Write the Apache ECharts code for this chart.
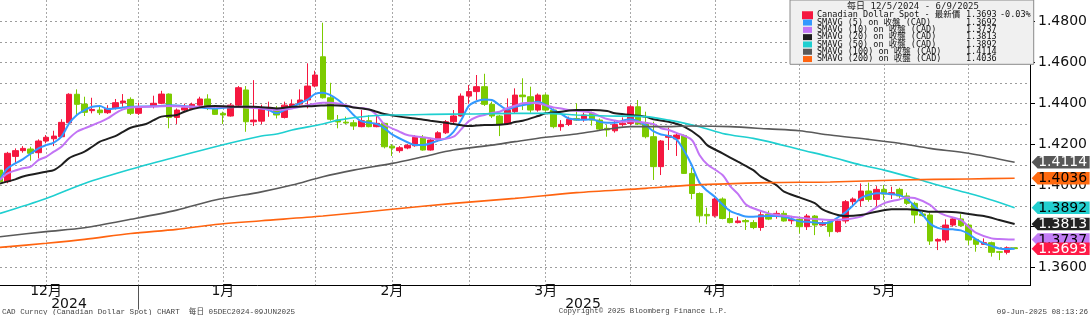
<!DOCTYPE html>
<html><head><meta charset="utf-8">
<script src="https://cdn.jsdelivr.net/npm/echarts@6/dist/echarts.min.js"></script>
<style>html,body{margin:0;padding:0;background:#fff}#c{width:1090px;height:315px}</style>
</head><body><div id="c"></div>
<script>
// ---------- DATA ----------
const firstDay = '2024-12-05';
const lastAxisDay = '2025-06-11';
const seriesNames = ['Canadian Dollar Spot - 最新價','SMAVG (5) on 收盤 (CAD)','SMAVG (10) on 收盤 (CAD)','SMAVG (20) on 收盤 (CAD)','SMAVG (50) on 收盤 (CAD)','SMAVG (100) on 收盤 (CAD)','SMAVG (200) on 收盤 (CAD)'];
const legendValues = [1.3693, 1.3692, 1.3737, 1.3813, 1.3892, 1.4114, 1.4036];
const lastChange = '-0.03%';
const yTicks = [1.36, 1.38, 1.40, 1.42, 1.44, 1.46, 1.48];
const yGrid = [1.36,1.37,1.38,1.39,1.40,1.41,1.42,1.43,1.44,1.45,1.46,1.47,1.48];
// [open, close, low, high] per weekday from 2024-12-05
const ohlc = [
[1.4076,1.4020,1.4010,1.4085],[1.4020,1.4158,1.4012,1.4165],[1.4143,1.4171,1.4109,1.4182],[1.4171,1.4182,1.4161,1.4193],
[1.4179,1.4158,1.4122,1.4190],[1.4161,1.4218,1.4133,1.4226],[1.4218,1.4236,1.4207,1.4247],[1.4229,1.4242,1.4193,1.4268],
[1.4239,1.4309,1.4236,1.4324],[1.4307,1.4446,1.4304,1.4451],[1.4446,1.4397,1.4345,1.4470],[1.4398,1.4358,1.4340,1.4434],
[1.4366,1.4372,1.4353,1.4429],[1.4369,1.4356,1.4345,1.4389],[1.4356,1.4377,1.4350,1.4393],[1.4377,1.4405,1.4372,1.4423],
[1.4405,1.4413,1.4385,1.4447],[1.4421,1.4353,1.4345,1.4431],[1.4353,1.4382,1.4345,1.4405],null,
[1.4389,1.4402,1.4377,1.4439],[1.4402,1.4447,1.4398,1.4463],[1.4447,1.4333,1.4280,1.4450],[1.4333,1.4369,1.4301,1.4377],
[1.4369,1.4380,1.4361,1.4400],[1.4377,1.4397,1.4369,1.4405],[1.4393,1.4423,1.4389,1.4434],[1.4423,1.4377,1.4369,1.4446],
[1.4377,1.4348,1.4345,1.4385],[1.4353,1.4345,1.4301,1.4361],[1.4340,1.4393,1.4337,1.4402],[1.4393,1.4478,1.4389,1.4486],
[1.4467,1.4312,1.4263,1.4486],[1.4312,1.4320,1.4291,1.4515],[1.4315,1.4378,1.4300,1.4395],[1.4372,1.4382,1.4336,1.4410],
[1.4377,1.4345,1.4328,1.4389],[1.4333,1.4393,1.4328,1.4410],[1.4382,1.4398,1.4377,1.4421],[1.4398,1.4418,1.4392,1.4470],
[1.4418,1.4486,1.4377,1.4597],[1.4486,1.4540,1.4480,1.4561],[1.4629,1.4429,1.4425,1.4795],[1.4429,1.4324,1.4317,1.4502],
[1.4320,1.4311,1.4280,1.4345],[1.4310,1.4306,1.4301,1.4337],[1.4307,1.4291,1.4272,1.4320],[1.4288,1.4317,1.4285,1.4369],
[1.4317,1.4288,1.4285,1.4345],[1.4288,1.4304,1.4285,1.4345],[1.4304,1.4190,1.4182,1.4307],[1.4193,1.4184,1.4145,1.4203],
[1.4171,1.4185,1.4161,1.4193],[1.4184,1.4197,1.4178,1.4203],[1.4195,1.4236,1.4190,1.4247],[1.4236,1.4174,1.4171,1.4247],
[1.4174,1.4223,1.4171,1.4231],[1.4223,1.4258,1.4215,1.4266],[1.4258,1.4312,1.4252,1.4320],[1.4312,1.4340,1.4304,1.4369],
[1.4340,1.4437,1.4337,1.4450],[1.4437,1.4459,1.4400,1.4491],[1.4459,1.4483,1.4418,1.4540],[1.4483,1.4397,1.4389,1.4546],
[1.4397,1.4340,1.4330,1.4410],[1.4340,1.4301,1.4242,1.4345],[1.4301,1.4369,1.4296,1.4426],[1.4361,1.4442,1.4353,1.4475],
[1.4442,1.4434,1.4369,1.4524],[1.4434,1.4369,1.4356,1.4483],[1.4369,1.4442,1.4361,1.4450],[1.4442,1.4369,1.4361,1.4450],
[1.4369,1.4288,1.4280,1.4377],[1.4288,1.4299,1.4268,1.4320],[1.4299,1.4324,1.4291,1.4337],[1.4328,1.4320,1.4317,1.4402],
[1.4324,1.4345,1.4312,1.4356],[1.4353,1.4320,1.4293,1.4361],[1.4320,1.4276,1.4268,1.4328],[1.4280,1.4272,1.4239,1.4296],
[1.4268,1.4299,1.4259,1.4320],[1.4298,1.4305,1.4288,1.4333],[1.4304,1.4385,1.4296,1.4393],[1.4385,1.4301,1.4296,1.4418],
[1.4301,1.4239,1.4231,1.4361],[1.4239,1.4093,1.4028,1.4312],[1.4093,1.4218,1.4052,1.4223],[1.4236,1.4244,1.4174,1.4283],
[1.4228,1.4247,1.4145,1.4260],[1.4245,1.4060,1.4057,1.4250],[1.4060,1.3962,1.3934,1.4088],[1.3962,1.3853,1.3820,1.3967],
[1.3860,1.3853,1.3812,1.3893],[1.3853,1.3935,1.3845,1.3943],[1.3935,1.3840,1.3836,1.3943],[1.3840,1.3820,1.3816,1.3885],
[1.3820,1.3828,1.3816,1.3849],[1.3830,1.3824,1.3784,1.3838],[1.3820,1.3796,1.3788,1.3832],[1.3796,1.3858,1.3780,1.3881],
[1.3861,1.3837,1.3832,1.3878],[1.3857,1.3865,1.3839,1.3878],[1.3865,1.3828,1.3825,1.3878],[1.3829,1.3836,1.3812,1.3853],
[1.3836,1.3800,1.3767,1.3849],[1.3800,1.3852,1.3784,1.3862],[1.3852,1.3808,1.3759,1.3857],[1.3808,1.3819,1.3804,1.3829],
[1.3824,1.3776,1.3751,1.3836],[1.3776,1.3828,1.3771,1.3833],[1.3828,1.3922,1.3816,1.3930],[1.3922,1.3935,1.3898,1.3943],
[1.3927,1.3974,1.3898,1.4011],[1.3974,1.3933,1.3922,1.4015],[1.3933,1.3982,1.3898,1.3998],[1.3982,1.3959,1.3930,1.4003],
[1.3959,1.3966,1.3935,1.3995],[1.3982,1.3950,1.3938,1.3990],[1.3950,1.3914,1.3906,1.3966],[1.3914,1.3857,1.3816,1.3922],
[1.3862,1.3854,1.3849,1.3873],[1.3857,1.3730,1.3711,1.3869],[1.3730,1.3738,1.3686,1.3743],[1.3735,1.3808,1.3722,1.3836],
[1.3808,1.3838,1.3800,1.3846],[1.3838,1.3805,1.3800,1.3861],[1.3808,1.3735,1.3711,1.3816],[1.3738,1.3714,1.3678,1.3743],
[1.3714,1.3722,1.3712,1.3743],[1.3722,1.3675,1.3654,1.3727],[1.3678,1.3675,1.3637,1.3681],[1.3675,1.3697,1.3665,1.3704],
[1.3697,1.3693,1.3691,1.3699]
];
// moving averages: [weekday index, value]
const sma5 = [[0,1.4028],[1,1.4085],[3,1.4130],[5,1.4182],[6,1.4198],[7,1.4210],[8,1.4239],[9,1.4304],[10,1.4345],[11,1.4369],[12,1.4385],[13,1.4389],[14,1.4374],[15,1.4377],[16,1.4382],[17,1.4385],[20,1.4387],[22,1.4392],[25,1.4385],[28,1.4377],[30,1.4383],[32,1.4385],[34,1.4378],[35,1.4369],[36,1.4353],[37,1.4369],[38,1.4385],[40,1.4420],[41,1.4448],[42,1.4454],[43,1.4442],[44,1.4418],[45,1.4385],[46,1.4345],[47,1.4315],[49,1.4301],[50,1.4280],[51,1.4250],[53,1.4212],[54,1.4198],[55,1.4198],[57,1.4220],[58,1.4231],[59,1.4263],[60,1.4320],[61,1.4390],[62,1.4412],[63,1.4421],[64,1.4418],[65,1.4393],[66,1.4372],[67,1.4385],[69,1.4400],[70,1.4410],[71,1.4393],[72,1.4369],[73,1.4350],[74,1.4328],[76,1.4322],[77,1.4324],[78,1.4312],[79,1.4307],[80,1.4307],[81,1.4317],[82,1.4324],[83,1.4315],[84,1.4295],[85,1.4266],[86,1.4250],[87,1.4243],[88,1.4225],[89,1.4170],[90,1.4100],[91,1.4015],[92,1.3975],[93,1.3946],[94,1.3908],[95,1.3876],[96,1.3862],[97,1.3850],[98,1.3849],[100,1.3852],[101,1.3852],[102,1.3849],[103,1.3838],[104,1.3826],[105,1.3824],[107,1.3817],[108,1.3822],[109,1.3845],[110,1.3870],[111,1.3905],[112,1.3940],[113,1.3955],[114,1.3963],[115,1.3963],[116,1.3958],[117,1.3954],[118,1.3935],[119,1.3900],[120,1.3860],[121,1.3815],[122,1.3794],[123,1.3788],[124,1.3787],[125,1.3782],[126,1.3765],[127,1.3738],[128,1.3719],[129,1.3706],[130,1.3694],[131,1.3691],[132,1.3692]];
const sma10 = [[0,1.4028],[1,1.4060],[3,1.4085],[4,1.4093],[5,1.4125],[6,1.4141],[7,1.4166],[8,1.4190],[9,1.4231],[10,1.4263],[11,1.4280],[13,1.4310],[14,1.4328],[15,1.4353],[16,1.4372],[17,1.4382],[19,1.4385],[22,1.4389],[24,1.4385],[27,1.4385],[30,1.4385],[32,1.4382],[34,1.4377],[36,1.4369],[38,1.4377],[40,1.4393],[42,1.4405],[43,1.4405],[45,1.4393],[46,1.4382],[48,1.4372],[49,1.4345],[50,1.4300],[52,1.4263],[53,1.4247],[55,1.4236],[56,1.4231],[57,1.4226],[59,1.4239],[60,1.4275],[61,1.4315],[62,1.4335],[63,1.4345],[64,1.4355],[65,1.4361],[66,1.4378],[67,1.4390],[68,1.4402],[69,1.4405],[70,1.4402],[71,1.4392],[72,1.4382],[73,1.4377],[74,1.4369],[75,1.4366],[77,1.4356],[78,1.4340],[79,1.4325],[80,1.4318],[81,1.4312],[82,1.4315],[83,1.4312],[85,1.4301],[86,1.4280],[87,1.4272],[88,1.4258],[90,1.4223],[91,1.4150],[92,1.4105],[94,1.4052],[95,1.3998],[96,1.3960],[97,1.3910],[98,1.3890],[100,1.3865],[101,1.3858],[103,1.3849],[105,1.3840],[106,1.3837],[108,1.3833],[110,1.3836],[112,1.3849],[113,1.3870],[115,1.3914],[117,1.3933],[118,1.3943],[119,1.3940],[121,1.3906],[122,1.3873],[123,1.3855],[125,1.3833],[126,1.3800],[127,1.3770],[129,1.3743],[130,1.3740],[132,1.3737]];
const sma20 = [[0,1.4011],[2,1.4031],[3,1.4045],[6,1.4068],[7,1.4076],[8,1.4101],[9,1.4135],[11,1.4166],[12,1.4190],[13,1.4215],[15,1.4242],[16,1.4263],[17,1.4283],[19,1.4301],[20,1.4320],[21,1.4337],[23,1.4345],[24,1.4361],[26,1.4382],[28,1.4389],[30,1.4385],[33,1.4385],[36,1.4377],[38,1.4385],[41,1.4389],[43,1.4393],[45,1.4389],[46,1.4382],[48,1.4372],[49,1.4361],[50,1.4350],[52,1.4337],[54,1.4328],[56,1.4317],[58,1.4307],[59,1.4301],[61,1.4291],[63,1.4296],[64,1.4296],[66,1.4301],[67,1.4311],[68,1.4317],[70,1.4340],[71,1.4353],[73,1.4361],[75,1.4369],[77,1.4369],[79,1.4364],[80,1.4353],[82,1.4345],[84,1.4337],[85,1.4324],[87,1.4312],[89,1.4288],[91,1.4239],[92,1.4198],[94,1.4158],[96,1.4117],[98,1.4076],[99,1.4044],[101,1.4003],[102,1.3971],[104,1.3943],[106,1.3915],[107,1.3885],[109,1.3857],[110,1.3852],[112,1.3857],[114,1.3873],[116,1.3885],[118,1.3885],[120,1.3878],[121,1.3873],[123,1.3873],[125,1.3868],[126,1.3862],[128,1.3852],[130,1.3833],[132,1.3813]];
const sma50 = [[0,1.3865],[6,1.3938],[11,1.4011],[17,1.4080],[23,1.4141],[28,1.4190],[34,1.4242],[36,1.4252],[38,1.4272],[42,1.4301],[44,1.4320],[48,1.4340],[51,1.4345],[56,1.4348],[61,1.4350],[67,1.4353],[71,1.4353],[75,1.4345],[79,1.4340],[84,1.4337],[87,1.4320],[91,1.4288],[94,1.4255],[98,1.4231],[100,1.4215],[104,1.4177],[108,1.4141],[112,1.4101],[115,1.4076],[119,1.4036],[122,1.4003],[126,1.3963],[129,1.3930],[132,1.3892]];
const sma100 = [[0,1.3751],[6,1.3776],[11,1.3795],[17,1.3836],[23,1.3881],[28,1.3930],[34,1.3970],[38,1.4003],[42,1.4044],[46,1.4076],[51,1.4109],[55,1.4141],[59,1.4174],[64,1.4198],[67,1.4215],[71,1.4236],[75,1.4252],[79,1.4275],[82,1.4288],[86,1.4288],[90,1.4291],[95,1.4288],[100,1.4277],[104,1.4268],[108,1.4247],[113,1.4226],[117,1.4207],[121,1.4182],[126,1.4158],[132,1.4114]];
const sma200 = [[0,1.3699],[6,1.3719],[11,1.3738],[17,1.3767],[23,1.3787],[28,1.3811],[34,1.3829],[42,1.3852],[51,1.3885],[59,1.3914],[67,1.3938],[75,1.3966],[84,1.3987],[90,1.4003],[100,1.4015],[108,1.4018],[117,1.4028],[126,1.4033],[132,1.4036]];

// ---------- categories (weekdays) ----------
function weekdays(a, b) {
  const out = []; const d = new Date(a + 'T00:00:00Z'); const e = new Date(b + 'T00:00:00Z');
  while (d <= e) { const w = d.getUTCDay(); if (w !== 0 && w !== 6) out.push(d.toISOString().slice(0, 10)); d.setUTCDate(d.getUTCDate() + 1); }
  return out;
}
const categories = weekdays(firstDay, lastAxisDay);
const monthEnd = new Set(), midMonth = new Set();
categories.forEach((c, i) => {
  const n = categories[i + 1];
  if (n && n.slice(0, 7) !== c.slice(0, 7)) monthEnd.add(i);
  const day = +c.slice(8, 10);
  if (day <= 15 && n && (n.slice(0, 7) !== c.slice(0, 7) || +n.slice(8, 10) > 15)) {
    if (categories.some(x => x.slice(0, 7) === c.slice(0, 7) && +x.slice(8, 10) >= 16)) midMonth.add(i);
  }
});
const yearEnd = categories.findIndex((c, i) => categories[i + 1] && categories[i + 1].slice(0, 4) !== c.slice(0, 4));

// ---------- style ----------
const RED = '#f5173f', GREEN = '#7ccb00';
const lineColors = ['#3399ff', '#c274f5', '#1e1e1e', '#1fcfd0', '#5a5a5a', '#ff6410'];
const tagStyles = [null, null, ['#c27cf5', '#000'], ['#222', '#fff'], ['#22cfcf', '#000'], ['#585858', '#fff'], ['#ff6a10', '#000']];
const MONO = '"DejaVu Sans Mono","Noto Sans CJK TC",monospace';
const SANS = '"DejaVu Sans","Noto Sans CJK TC",sans-serif';
const TAG_PATH = 'path://M0,6 L6,0 L58,0 L58,12 L6,12 Z';
const yPx = 2050, Y_MAX = 1.48 + 21.7 / yPx, Y_MIN = 1.36 - (285.6 - 267.7) / yPx;

function tag(idx, val, colors, z) {
  return {
    symbol: TAG_PATH, symbolSize: [58, 12.5], symbolOffset: [46, 0], silent: true, animation: false, z: z,
    itemStyle: { color: colors[0] },
    label: { show: true, position: 'inside', offset: [2, 0.5], formatter: p => p.value.toFixed(4), color: colors[1], fontSize: 14, fontFamily: SANS },
    data: [{ coord: [idx, val], value: val }]
  };
}

const lastIdx = ohlc.length - 1;
const smaArrays = [sma5, sma10, sma20, sma50, sma100, sma200];
const series = [{
  type: 'candlestick', name: seriesNames[0], barWidth: 6, clip: true,
  data: ohlc.map(r => r ? r : ['-', '-', '-', '-']),
  itemStyle: { color: RED, color0: GREEN, borderColor: RED, borderColor0: GREEN, borderWidth: 1 },
  markLine: { silent: true, symbol: ['none', 'none'], z: 1, animation: false, label: { show: false },
    lineStyle: { color: '#9d9d9d', type: [2, 3], width: 1 }, data: yGrid.map(v => ({ yAxis: v })) },
  markPoint: tag(lastIdx, ohlc[lastIdx][1], ['#ff1a47', '#fff'], 30)
}];
smaArrays.forEach((arr, k) => {
  const s = {
    type: 'line', name: seriesNames[k + 1], data: arr, showSymbol: false, symbol: 'none', smooth: 0.3,
    lineStyle: { color: lineColors[k], width: k >= 3 ? 1.6 : 2 }, itemStyle: { color: lineColors[k] }, z: 3
  };
  if (tagStyles[k + 1]) s.markPoint = tag(arr[arr.length - 1][0], arr[arr.length - 1][1], tagStyles[k + 1], 20 + k);
  series.push(s);
});

const LF = 8.5;
const chart = echarts.init(document.getElementById('c'), null, { renderer: 'canvas' });
chart.setOption({
  animation: false,
  backgroundColor: '#fff',
  grid: { left: 0, right: 60, top: 0, bottom: 315 - 285.6, containLabel: false },
  xAxis: {
    type: 'category', data: categories, boundaryGap: false,
    axisLine: { show: true, lineStyle: { color: '#000', width: 1 } },
    axisTick: { show: true, interval: i => i === yearEnd, length: 24, lineStyle: { color: '#555' } },
    axisLabel: { interval: i => midMonth.has(i), formatter: v => (+v.slice(5, 7)) + '月', fontSize: 14, color: '#111', fontFamily: SANS, margin: -1 },
    splitLine: { show: true, interval: i => midMonth.has(i) || monthEnd.has(i), lineStyle: { color: '#a8a8a8', type: [2, 2], width: 1 } }
  },
  yAxis: {
    type: 'value', position: 'right', min: Y_MIN, max: Y_MAX,
    splitLine: { show: false },
    axisLine: { show: true, lineStyle: { color: '#000', width: 1 } },
    axisTick: { show: true, customValues: yTicks, length: 5, lineStyle: { color: '#000' } },
    axisLabel: { customValues: yTicks, formatter: v => v.toFixed(4), fontSize: 14, color: '#111', fontFamily: SANS, margin: 8 }
  },
  legend: {
    left: 790, top: 0, orient: 'vertical', padding: [11, 3, 1, 12], itemGap: -1.2, itemWidth: 9, itemHeight: 6,
    icon: 'rect', selectedMode: false, backgroundColor: '#f0f0f0', borderColor: '#8a8a8a', borderWidth: 1,
    data: seriesNames,
    formatter: name => {
      const k = seriesNames.indexOf(name);
      return '{n|' + name + '}{v|' + legendValues[k].toFixed(4) + '}' + (k === 0 ? '{p|' + lastChange + '}' : '{p|}');
    },
    textStyle: {
      fontFamily: MONO, fontSize: LF, color: '#111', lineHeight: 7.2,
      rich: {
        n: { width: 149, fontFamily: MONO, fontSize: LF, lineHeight: 7.2, color: '#111' },
        v: { width: 34, fontFamily: MONO, fontSize: LF, lineHeight: 7.2, color: '#111' },
        p: { width: 28, fontFamily: MONO, fontSize: LF, lineHeight: 7.2, color: '#111' }
      }
    }
  },
  graphic: [
    { type: 'text', x: 913, y: 7, z: 100, style: { text: '每日 12/5/2024 - 6/9/2025', font: '9px ' + MONO, fill: '#222', textAlign: 'center', textVerticalAlign: 'middle' } },
    { type: 'text', x: 69, y: 304, style: { text: '2024', font: '14px ' + SANS, fill: '#111', textAlign: 'center', textVerticalAlign: 'middle' } },
    { type: 'text', x: 583, y: 304, style: { text: '2025', font: '14px ' + SANS, fill: '#111', textAlign: 'center', textVerticalAlign: 'middle' } },
    { type: 'text', x: 2, y: 311.5, style: { text: 'CAD Curncy (Canadian Dollar Spot) CHART  每日 05DEC2024-09JUN2025', font: '7.6px "Liberation Mono","Noto Sans CJK TC",monospace', fill: '#444', textAlign: 'left', textVerticalAlign: 'middle' } },
    { type: 'text', x: 643, y: 311.5, style: { text: 'Copyright© 2025 Bloomberg Finance L.P.', font: '7.4px "Liberation Mono",monospace', fill: '#444', textAlign: 'center', textVerticalAlign: 'middle' } },
    { type: 'text', x: 1088, y: 311.5, style: { text: '09-Jun-2025 08:13:26', font: '7.6px "Liberation Mono",monospace', fill: '#444', textAlign: 'right', textVerticalAlign: 'middle' } }
  ],
  series: series
});
</script></body></html>
